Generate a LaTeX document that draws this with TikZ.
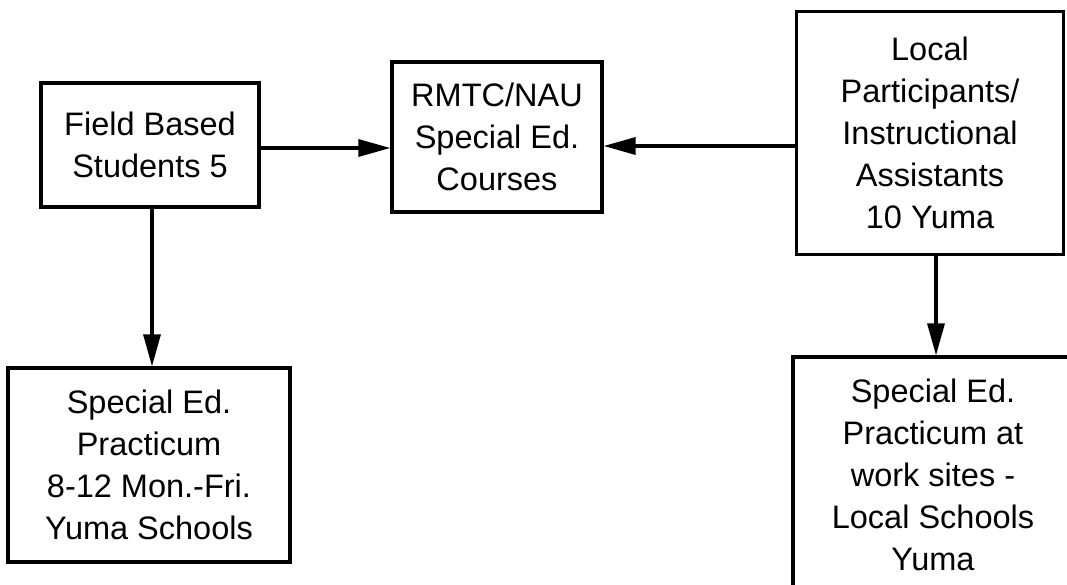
\documentclass[tikz,border=0pt]{standalone}
\usepackage{fontspec}
\setmainfont{Liberation Sans}
\usetikzlibrary{arrows.meta}
\begin{document}
\begin{tikzpicture}[x=1pt,y=-1pt,
  box/.style={draw, line width=3.2pt, align=center, inner sep=0pt,
    font=\fontsize{32.5}{42}\selectfont},
  arr/.style={line width=3.2pt, -{Triangle[length=32pt,width=17pt]}}]
\useasboundingbox (0,0) rectangle (1067,584);
\clip (0,0) rectangle (1067,584);
\node[box, minimum width=218pt, minimum height=124pt] (A) at (150,145) {Field Based\\Students 5};
\node[box, minimum width=210pt, minimum height=150pt] (B) at (497,137) {RMTC/NAU\\Special Ed.\\Courses};
\node[box, minimum width=267pt, minimum height=243pt] (C) at (930,133) {Local\\Participants/\\Instructional\\Assistants\\10 Yuma};
\node[box, minimum width=282pt, minimum height=194pt] (D) at (149,465) {Special Ed.\\Practicum\\8-12 Mon.-Fri.\\Yuma Schools};
\node[box, minimum width=280pt, minimum height=236pt] (E) at (933,475) {Special Ed.\\Practicum at\\work sites -\\Local Schools\\Yuma};
\draw[arr] ([yshift=-3pt]A.east) -- ([yshift=-3pt]A.east -| B.west);
\draw[arr] ([yshift=-13pt]C.west) -- ([yshift=-13pt]C.west -| B.east);
\draw[arr] ([xshift=2pt]A.south) -- ([xshift=2pt]A.south |- D.north);
\draw[arr] ([xshift=6pt]C.south) -- ([xshift=6pt]C.south |- E.north);
\end{tikzpicture}
\end{document}
